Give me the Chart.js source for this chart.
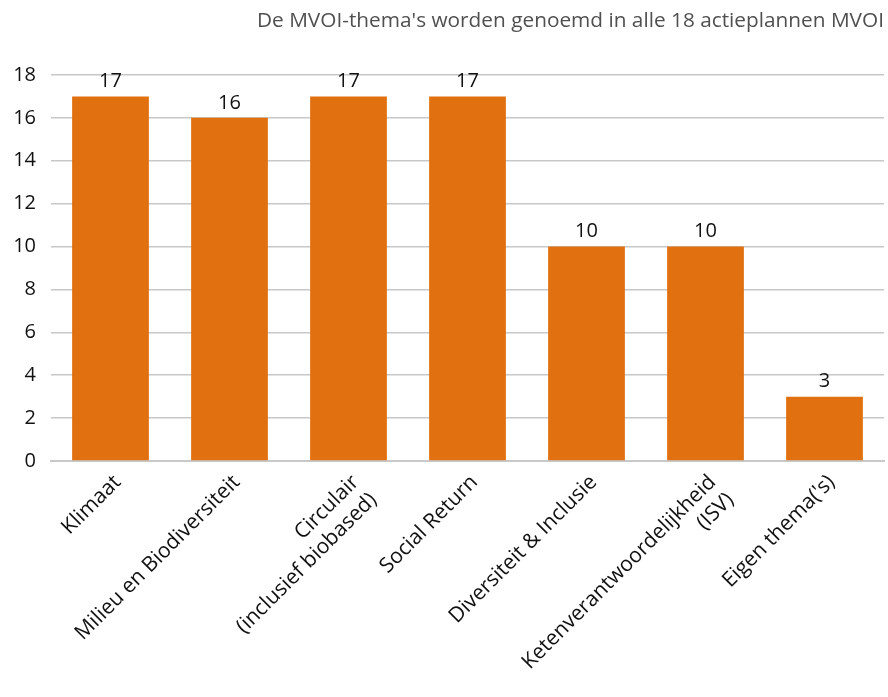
<!DOCTYPE html>
<html>
<head>
<meta charset="utf-8">
<script src="https://cdn.jsdelivr.net/npm/chart.js@4/dist/chart.umd.min.js"></script>
<style>
  html, body { margin: 0; padding: 0; background: #fff; }
  #wrap { width: 888px; height: 697px; position: relative; }
</style>
</head>
<body>
<div id="wrap"><canvas id="chart"></canvas></div>
<script>
  const categories = [
    "Klimaat",
    "Milieu en Biodiversiteit",
    ["Circulair", "(inclusief biobased)"],
    "Social Return",
    "Diversiteit & Inclusie",
    ["Ketenverantwoordelijkheid", "(ISV)"],
    "Eigen thema('s)"
  ];
  const counts = [17, 16, 17, 17, 10, 10, 3];
  const yTicks = [0, 2, 4, 6, 8, 10, 12, 14, 16, 18];
  const titleText = "De MVOI-thema's worden genoemd in alle 18 actieplannen MVOI";

  const fontFamily = "'Open Sans', 'Noto Sans', sans-serif";

  // draw the value above each bar
  const valueLabels = {
    id: "valueLabels",
    afterDatasetsDraw(chart) {
      const ctx = chart.ctx;
      const meta = chart.getDatasetMeta(0);
      ctx.save();
      ctx.font = "20px " + fontFamily;
      ctx.fillStyle = "#111";
      ctx.textAlign = "center";
      ctx.textBaseline = "bottom";
      meta.data.forEach((bar, i) => {
        ctx.fillText(String(counts[i]), bar.x, bar.y - 5);
      });
      ctx.restore();
    }
  };

  new Chart(document.getElementById("chart").getContext("2d"), {
    type: "bar",
    data: {
      labels: categories,
      datasets: [{
        data: counts,
        backgroundColor: "#E07010",
        borderWidth: 0,
        categoryPercentage: 0.645,
        barPercentage: 1
      }]
    },
    options: {
      responsive: true,
      maintainAspectRatio: false,
      animation: false,
      layout: { padding: { left: 0, right: 4, top: 0, bottom: 0 } },
      plugins: {
        legend: { display: false },
        tooltip: { enabled: false },
        title: {
          display: true,
          text: titleText,
          align: "end",
          color: "#505050",
          font: { family: fontFamily, size: 20.8, weight: "normal" },
          padding: { top: 9, bottom: 41 }
        }
      },
      scales: {
        x: {
          grid: { display: false },
          border: { display: true, color: "#c8c8c8", width: 2 },
          ticks: {
            color: "#111",
            font: { family: fontFamily, size: 21 },
            maxRotation: 45,
            minRotation: 45,
            autoSkip: false,
            labelOffset: 7,
            padding: 1
          },
          afterFit(scale) { scale.height = 236; }
        },
        y: {
          min: 0,
          max: 18,
          afterBuildTicks(scale) { scale.ticks = yTicks.map(v => ({ value: v })); },
          grid: { color: "#c8c8c8", lineWidth: 1.5, drawTicks: false },
          border: { display: false },
          ticks: {
            color: "#111",
            font: { family: fontFamily, size: 20 },
            padding: 15
          },
          afterFit(scale) { scale.width = 51; }
        }
      }
    },
    plugins: [valueLabels]
  });
</script>
</body>
</html>
